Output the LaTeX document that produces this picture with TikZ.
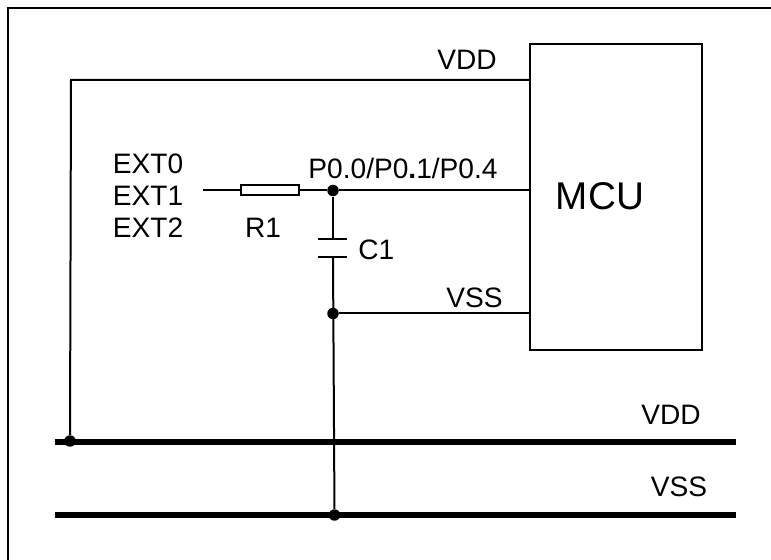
\documentclass[tikz,border=0pt]{standalone}
\usepackage{fontspec}
\setmainfont{Liberation Sans}
\tikzset{
	wire/.style={line width=0.04cm},
	bus/.style={line width=0.11cm},
	dot/.style={circle, fill=black, inner sep=0pt, minimum size=0.23cm},
	label text/.style={font=\fontsize{16}{18}\selectfont, inner sep=0pt}
}
\begin{document}
\begin{tikzpicture}[line cap=butt, line join=miter, x=0.02cm, y=-0.02cm]
	\useasboundingbox (0,0) rectangle (771,560);
	\coordinate (frameB) at (8,560);
	\coordinate (frameC) at (8,8);
	\coordinate (frameR) at (771,8);
	\draw[wire] (frameB) -- (frameC) -- (frameR);
	% MCU
	\node[draw, wire, minimum width=3.44cm, minimum height=6.12cm, inner sep=0pt] (mcu) at (616,197) {};
	\node[font=\fontsize{22}{26}\selectfont, inner sep=0pt] (mcutext) at (600,196) {MCU};
	% supply rails
	\coordinate (busddL) at (55,442);
	\coordinate (busddR) at (736,442);
	\coordinate (busssL) at (55,515);
	\coordinate (busssR) at (736,515);
	\draw[bus] (busddL) -- (busddR);
	\draw[bus] (busssL) -- (busssR);
	% nodes on the wires
	\node[dot] (jP) at (333,190.5) {};
	\node[dot] (jS) at (333,313.5) {};
	\node[dot] (jB) at (334.5,515) {};
	\node[dot] (jD) at (70,441) {};
	\coordinate (inL) at (203,190.5);
	\node[draw, wire, fill=white, minimum width=1.16cm, minimum height=0.2cm, inner sep=0pt] (R1) at (270,190.5) {};
	\coordinate (plateA) at (333,239);
	\coordinate (plateB) at (333,257);
	\coordinate (vddT) at (71,80);
	% wires
	\draw[wire] (jD) -- (vddT) -- (vddT -| mcu.west);
	\draw[wire] (inL) -- (R1.west);
	\draw[wire] (R1.east) -- (jP);
	\draw[wire] (jP) -- (jP -| mcu.west);
	\draw[wire] (jS) -- (jS -| mcu.west);
	\draw[wire] (jP) -- (plateA);
	\draw[wire] (plateB) -- (jB);
	\draw[wire] ([xshift=-0.3cm]plateA) -- ([xshift=0.28cm]plateA);
	\draw[wire] ([xshift=-0.3cm]plateB) -- ([xshift=0.28cm]plateB);
	% labels
	\node[label text, anchor=west] (ext0) at (112.5,164) {EXT0};
	\node[label text, anchor=west] (ext1) at (112.5,196) {EXT1};
	\node[label text, anchor=west] (ext2) at (112.5,228) {EXT2};
	\node[label text] (r1text) at (263,228) {R1};
	\node[label text, anchor=west] (c1text) at (358,250) {C1};
	\node[label text] (ptext) at (403,168) {P0.0/P0\textbf{.}1/P0.4};
	\node[label text] (vddtext) at (467,60) {VDD};
	\node[label text] (vsstext) at (474.5,298) {VSS};
	\node[label text] (vddbus) at (671,415) {VDD};
	\node[label text] (vssbus) at (679,487) {VSS};
\end{tikzpicture}
\end{document}
